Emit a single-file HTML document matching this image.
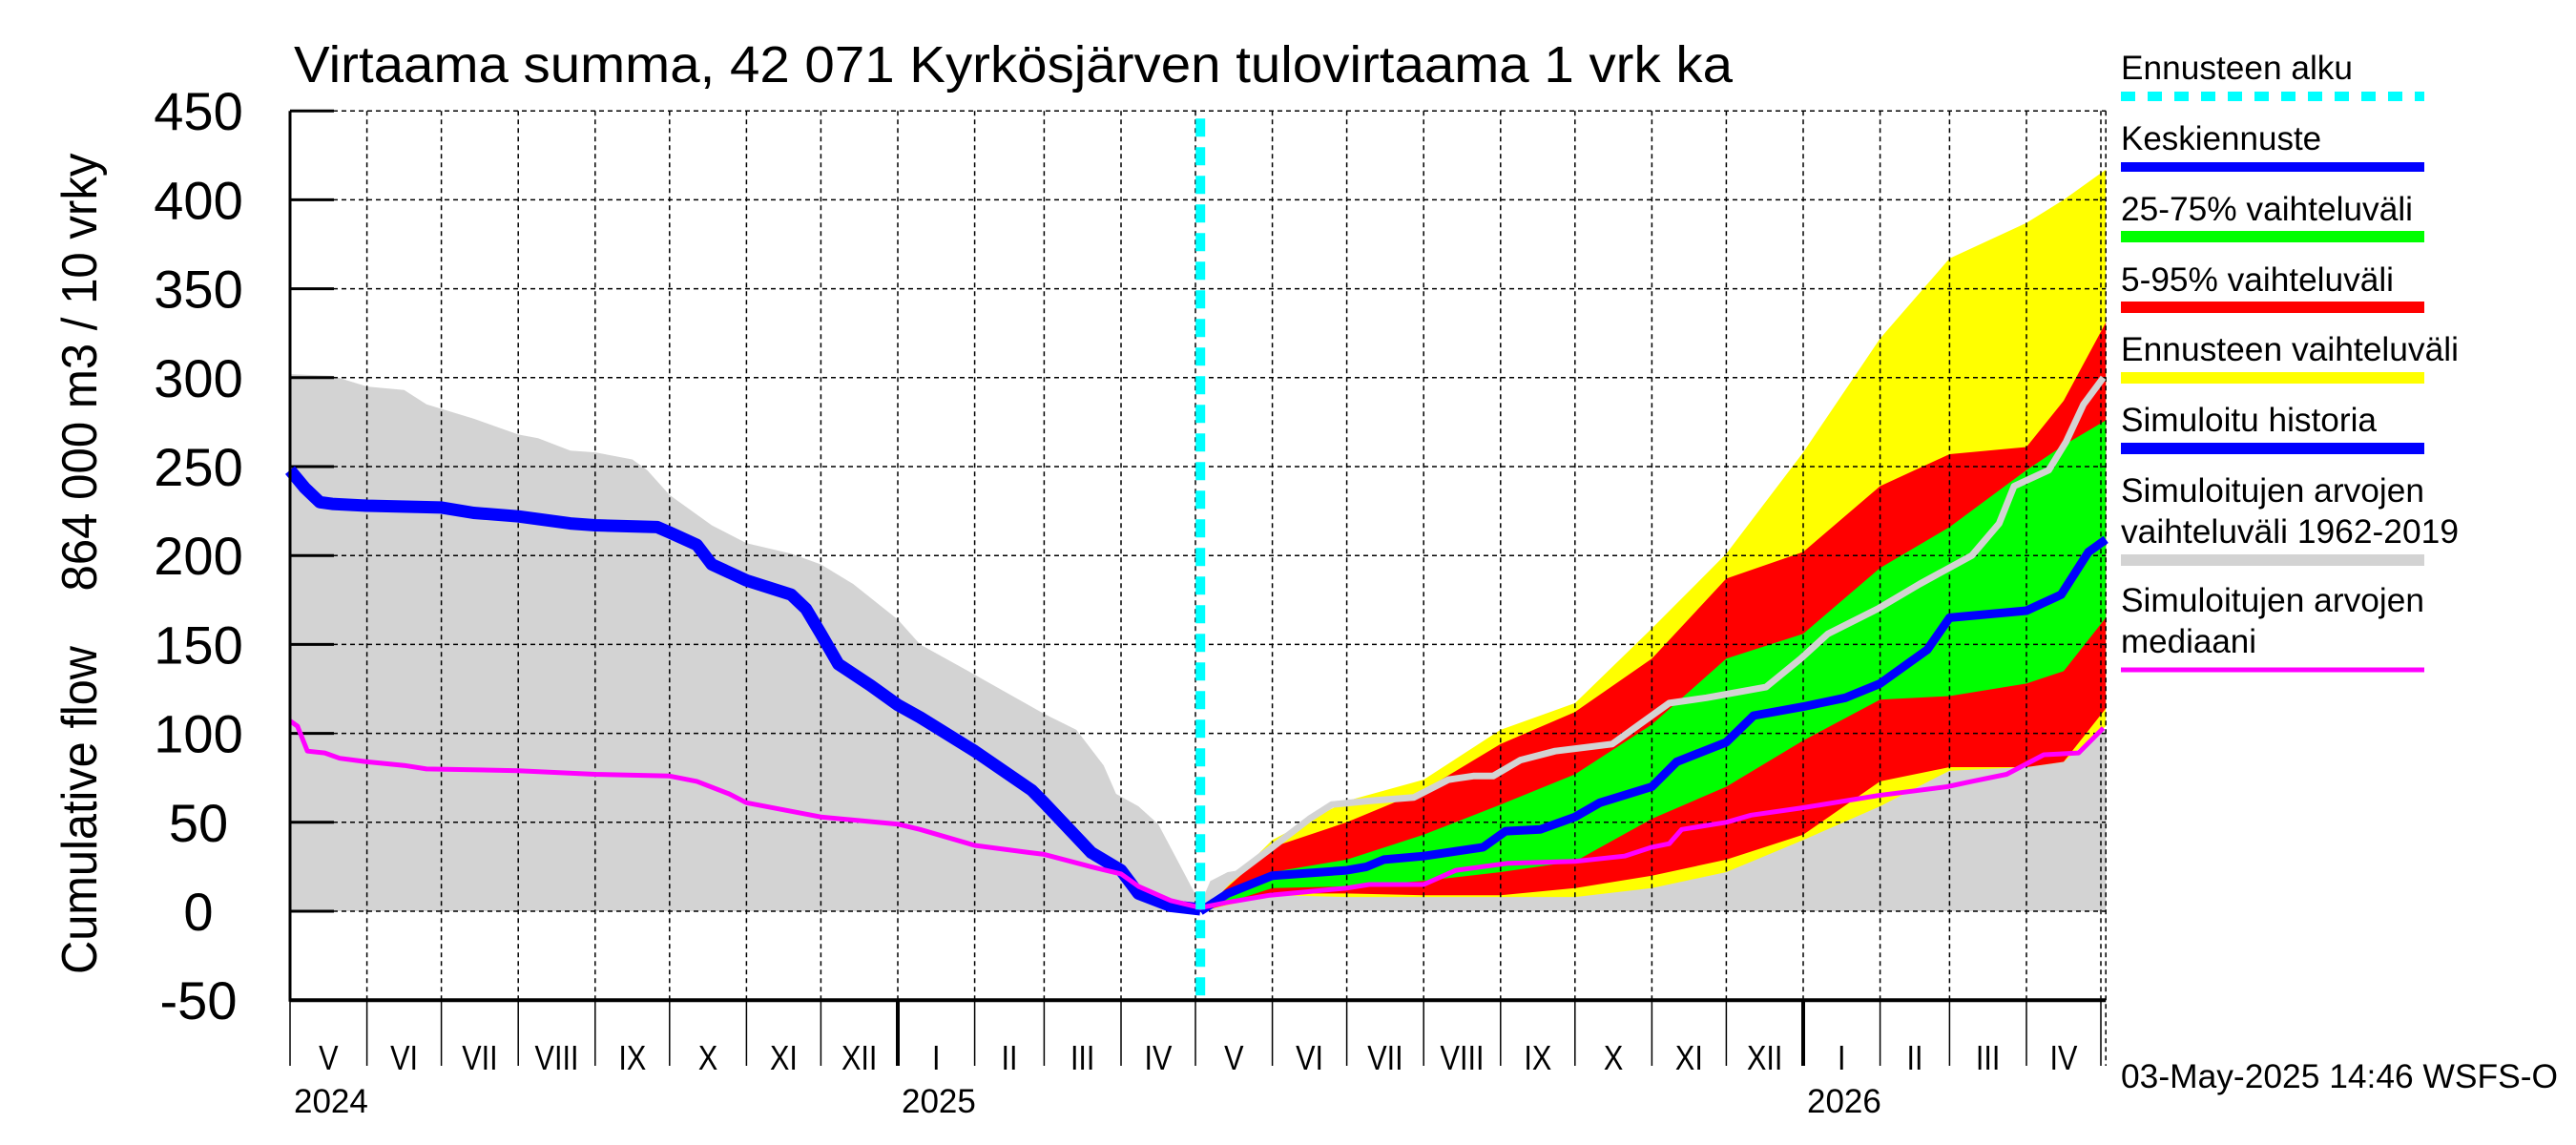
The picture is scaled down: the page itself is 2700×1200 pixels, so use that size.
<!DOCTYPE html>
<html><head><meta charset="utf-8"><style>
html,body{margin:0;padding:0;background:#fff;}
svg{display:block;font-family:"Liberation Sans",sans-serif;}
</style></head><body>
<svg id="chart" width="2700" height="1200" viewBox="0 0 2700 1200" xmlns="http://www.w3.org/2000/svg">
<text x="308" y="86" font-size="54" textLength="1508" lengthAdjust="spacingAndGlyphs">Virtaama summa, 42 071 Kyrkösjärven tulovirtaama 1 vrk ka</text>
<text transform="translate(101,390) rotate(-90)" text-anchor="middle" font-size="52" textLength="459" lengthAdjust="spacingAndGlyphs">864 000 m3 / 10 vrky</text>
<text transform="translate(101,849) rotate(-90)" text-anchor="middle" font-size="52" textLength="344" lengthAdjust="spacingAndGlyphs">Cumulative flow</text>
<g id="plot"></g>
<g id="legend">
<text x="2223" y="83" font-size="35" textLength="243" lengthAdjust="spacingAndGlyphs">Ennusteen alku</text>
<line x1="2223" y1="101" x2="2541" y2="101" stroke="#00ffff" stroke-width="10" stroke-dasharray="15 13"/>
<text x="2223" y="157" font-size="35">Keskiennuste</text>
<line x1="2223" y1="175" x2="2541" y2="175" stroke="#0000ff" stroke-width="10"/>
<text x="2223" y="231" font-size="35" textLength="306" lengthAdjust="spacingAndGlyphs">25-75% vaihteluväli</text>
<line x1="2223" y1="248" x2="2541" y2="248" stroke="#00ff00" stroke-width="12"/>
<text x="2223" y="305" font-size="35" textLength="286" lengthAdjust="spacingAndGlyphs">5-95% vaihteluväli</text>
<line x1="2223" y1="322" x2="2541" y2="322" stroke="#ff0000" stroke-width="12"/>
<text x="2223" y="378" font-size="35" textLength="354" lengthAdjust="spacingAndGlyphs">Ennusteen vaihteluväli</text>
<line x1="2223" y1="396" x2="2541" y2="396" stroke="#ffff00" stroke-width="12"/>
<text x="2223" y="452" font-size="35" textLength="268" lengthAdjust="spacingAndGlyphs">Simuloitu historia</text>
<line x1="2223" y1="470" x2="2541" y2="470" stroke="#0000ff" stroke-width="12"/>
<text x="2223" y="526" font-size="35" textLength="318" lengthAdjust="spacingAndGlyphs">Simuloitujen arvojen</text>
<text x="2223" y="569" font-size="35" textLength="354" lengthAdjust="spacingAndGlyphs">vaihteluväli 1962-2019</text>
<line x1="2223" y1="587" x2="2541" y2="587" stroke="#d3d3d3" stroke-width="12"/>
<text x="2223" y="641" font-size="35" textLength="318" lengthAdjust="spacingAndGlyphs">Simuloitujen arvojen</text>
<text x="2223" y="684" font-size="35">mediaani</text>
<line x1="2223" y1="702" x2="2541" y2="702" stroke="#ff00ff" stroke-width="5"/>
</g>
<text x="2223" y="1140" font-size="35" textLength="458" lengthAdjust="spacingAndGlyphs">03-May-2025 14:46 WSFS-O</text>
</svg>
<script>
// Data: x = days since 2024-05-01, values in 864 000 m3 / 10 vrky
const grayDays = [0,17,31,46,55,74,92,100,113,123,138,144,153,170,184,202,214,227,245,254,276,304,317,328,333,342,350,361,367,371,378,396,426,457,488,518,549,579,610,641,669,700,715,732];
const grayUpper = [302,301,295,293,285,277,268,266,259,258,254,248,234,217,207,201,195,184,164,150,133,111,102,82,66,59,49,20,4,17,22,26,30,35,40,45,50,55,60,79,81,82,85,102];
const histDays = [0,6,12,17,31,61,74,92,113,123,148,153,164,170,184,202,208,214,221,234,245,254,276,299,304,323,335,342,355,367];
const histBlue = [248,238,230,229,228,227,224,222,218,217,216,213,206,195,186,178,170,156,139,127,116,109,90,68,61,33,23,10,3,1];
const medDays = [0,3,7,14,20,31,46,55,92,123,153,164,177,184,214,245,254,276,298,304,323,335,342,355,367,378,395,426,435,457,470,491,518,538,549,556,561,579,589,609,640,668,678,692,707,721,731];
const medValues = [107,104,90,89,86,84,82,80,79,77,76,73,66,61,53,49,46,37,33,32,25,21,14,6,2,5,9,13,15,15,23,27,28,31,36,38,46,50,54,58,65,70,73,77,88,89,103];
const bandDays = [367,396,426,457,488,518,549,579,610,641,669,700,715,732];
const yellowUpper = [0,40,62,74,102,117,159,201,258,322,367,387,400,417];
const redUpper = [0,36,50,68,94,112,142,187,202,239,257,261,287,331];
const greenUpper = [0,22,29,43,60,77,105,142,156,193,216,248,262,276];
const greenLower = [0,13,14,17,22,28,52,70,96,119,121,128,135,165];
const redLower = [0,10,10,9,9,13,20,29,43,73,81,81,84,114];
const yellowLower = [0,9,8,8,8,8,13,22,40,59,79,81,84,104];
const fcDays = [367,378,396,426,434,441,457,481,490,504,518,528,549,559,579,590,610,627,641,653,660,669,700,714,725,732];
const fcBlue = [0,10,20,23,25,29,31,36,45,46,53,61,70,84,95,110,115,120,128,140,147,165,169,178,202,209];
const simLineDays = [367,378,397,411,420,435,453,467,477,485,496,510,533,542,556,571,579,595,609,620,640,657,678,689,695,709,716,723,731];
const simLineValues = [0,17,37,52,60,62,64,74,76,76,85,90,94,103,117,120,122,126,142,156,170,184,200,218,239,248,264,285,300];
const yTicks = [450,400,350,300,250,200,150,100,50,0,-50];
const monthNames = ["I","II","III","IV","V","VI","VII","VIII","IX","X","XI","XII"];
const forecastDay = 367;
const endDay = 732;

const NS = "http://www.w3.org/2000/svg";
const X = d => 304 + d * 2.6;
const Y = v => 955 - v * 1.864;
const plot = document.getElementById('plot');
function mk(tag, attrs){const e=document.createElementNS(NS,tag);for(const k in attrs)e.setAttribute(k,attrs[k]);plot.appendChild(e);return e;}
function pts(days, vals){return days.map((d,i)=>X(d).toFixed(1)+','+Y(vals[i]).toFixed(1)).join(' ');}
function band(days, up, lo){return pts(days,up)+' '+pts(days.slice().reverse(), lo.slice().reverse());}

let e;
e = mk('polygon',{points: pts(grayDays,grayUpper)+' '+X(endDay)+','+Y(0)+' '+X(0)+','+Y(0), fill:'#d3d3d3'});


e = mk('polygon',{points: band(bandDays,yellowUpper,yellowLower), fill:'#ffff00'});


e = mk('polygon',{points: band(bandDays,redUpper,redLower), fill:'#ff0000'});


e = mk('polygon',{points: band(bandDays,greenUpper,greenLower), fill:'#00ff00'});



// horizontal grid + ticks
yTicks.forEach(v=>{
  if (v!==-50){
    e = mk('line',{x1:304,x2:X(endDay),y1:Y(v),y2:Y(v),stroke:'#000','stroke-width':1.5,'stroke-dasharray':'5 4'});
    
    
    e = mk('line',{x1:304,x2:350,y1:Y(v),y2:Y(v),stroke:'#000','stroke-width':3});
    
    
  }
  e = mk('text',{x:208,y:Y(v)+20,'text-anchor':'middle','font-size':56});
  e.textContent = String(v);
  
  
});

// months
const start = Date.UTC(2024,4,1);
const monthStarts = [];
for(let i=0;i<=24;i++){const dt=new Date(Date.UTC(2024,4+i,1));monthStarts.push({day:(dt-start)/86400000,m:dt.getUTCMonth(),y:dt.getUTCFullYear()});}
monthStarts.forEach((ms,i)=>{
  const x = X(ms.day);
  if (ms.day>0){
    e = mk('line',{x1:x,x2:x,y1:Y(450),y2:Y(-50),stroke:'#000','stroke-width':1.5,'stroke-dasharray':'5 4'});
    
    
  }
  e = mk('line',{x1:x,x2:x,y1:Y(-50),y2:1117,stroke:'#000','stroke-width':ms.m===0?4:1.5});
  
  
  if (i<24){
    const nx = X(monthStarts[i+1].day);
    e = mk('text',{x:(x+nx)/2,y:1121,'text-anchor':'middle','font-size':36,transform:'translate('+((x+nx)/2)+',0) scale(0.85,1) translate('+(-(x+nx)/2)+',0)'});
    e.textContent = monthNames[ms.m];
    
    
  }
  if (ms.m===0 || i===0){
    e = mk('text',{x:x+4,y:1166,'font-size':35});
    e.textContent = String(ms.y);
    
    
  }
});
e = mk('line',{x1:X(endDay),x2:X(endDay),y1:Y(450),y2:1117,stroke:'#000','stroke-width':1.5,'stroke-dasharray':'5 4'});



// series lines
e = mk('polyline',{points:pts(simLineDays,simLineValues),fill:'none',stroke:'#d3d3d3','stroke-width':7,'stroke-linejoin':'round'});


e = mk('polyline',{points:pts(histDays,histBlue),fill:'none',stroke:'#0000ff','stroke-width':13,'stroke-linejoin':'round'});


e = mk('polyline',{points:pts(fcDays,fcBlue),fill:'none',stroke:'#0000ff','stroke-width':9,'stroke-linejoin':'round'});


e = mk('polyline',{points:pts(medDays,medValues),fill:'none',stroke:'#ff00ff','stroke-width':5,'stroke-linejoin':'round'});



// axes
e = mk('line',{x1:304,x2:304,y1:Y(450),y2:Y(-50)+1.5,stroke:'#000','stroke-width':3});


e = mk('line',{x1:304,x2:X(endDay),y1:Y(-50),y2:Y(-50),stroke:'#000','stroke-width':4});


e = mk('line',{x1:X(forecastDay),x2:X(forecastDay),y1:Y(450)+8,y2:Y(-50),stroke:'#00ffff','stroke-width':10,'stroke-dasharray':'19 11'});


</script>
</body></html>
